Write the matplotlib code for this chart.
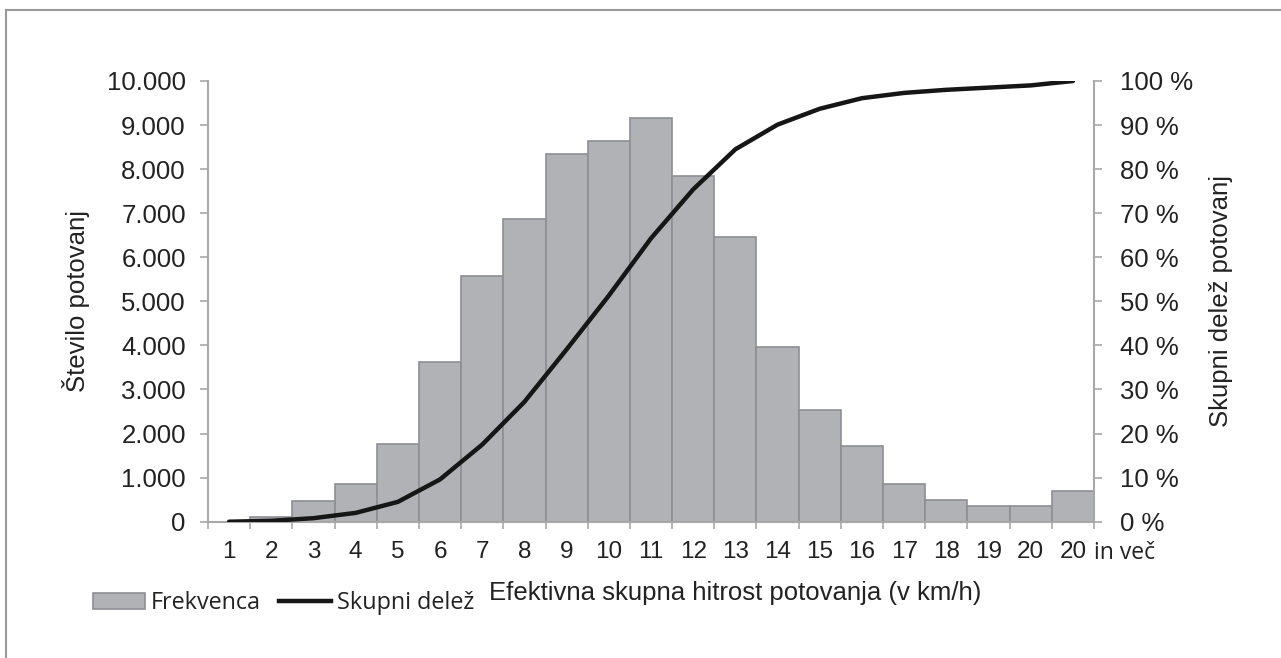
import matplotlib
matplotlib.use("Agg")
import matplotlib.pyplot as plt
from matplotlib.patches import Patch
from matplotlib.lines import Line2D

plt.rcParams['font.family'] = ['Liberation Sans', 'DejaVu Sans']

# podatki, odcitani s slike
kategorije = ['1', '2', '3', '4', '5', '6', '7', '8', '9', '10', '11', '12', '13',
              '14', '15', '16', '17', '18', '19', '20', '20']
frekvenca = [0, 110, 460, 855, 1765, 3620, 5575, 6860, 8350, 8636, 9166, 7848, 6455,
             3962, 2538, 1712, 848, 493, 345, 345, 697]
skupni_delez = [0, 0.2, 0.8, 2.0, 4.5, 9.6, 17.5, 27.2, 39.1, 51.3, 64.3, 75.4, 84.5,
                90.1, 93.7, 96.1, 97.3, 98.0, 98.5, 99.0, 100]
levi_ticki = [0, 1000, 2000, 3000, 4000, 5000, 6000, 7000, 8000, 9000, 10000]
desni_ticki = [0, 10, 20, 30, 40, 50, 60, 70, 80, 90, 100]

siva_os = '#a8a8a8'
W, H = 1281, 658

fig = plt.figure(figsize=(W / 100, H / 100), dpi=100)
ax = fig.add_axes([208 / W, 1 - 521.7 / H, 886 / W, 440.7 / H])
ax2 = ax.twinx()

x = list(range(len(kategorije)))
ax.bar(x, frekvenca, width=1.0, color='#b1b2b6', edgecolor='#8e8f94', linewidth=1.2, zorder=2)
ax2.plot(x, skupni_delez, color='#161616', lw=3.2, solid_joinstyle='round',
         solid_capstyle='round', zorder=3)

ax.set_xlim(-0.5, len(kategorije) - 0.5)
ax.set_ylim(0, 10000)
ax2.set_ylim(0, 100)

# levi y
ax.set_yticks(levi_ticki)
ax.set_yticklabels([f'{v:,}'.replace(',', '.') for v in levi_ticki], fontsize=18.5, color='#222222')
ax.tick_params(axis='y', direction='out', length=6, width=1.2, color=siva_os, pad=10)
# desni y
ax2.set_yticks(desni_ticki)
ax2.set_yticklabels([f'{v} %' for v in desni_ticki], fontsize=18.5, color='#222222')
ax2.tick_params(axis='y', direction='out', length=6, width=1.2, color=siva_os, pad=13)

# x: oznake na sredini, crtice na robovih stolpcev
ax.set_xticks(x)
ax.set_xticklabels(kategorije, fontsize=17.5, color='#222222')
ax.set_xticks([i - 0.5 for i in range(len(kategorije) + 1)], minor=True)
ax.tick_params(axis='x', which='major', length=0, pad=14)
ax.tick_params(axis='x', which='minor', direction='out', length=5, width=1.2, color=siva_os)

for a in (ax, ax2):
    a.spines['top'].set_visible(False)
    for s in ('left', 'right', 'bottom'):
        a.spines[s].set_color(siva_os)
        a.spines[s].set_linewidth(1.5)
ax.spines['right'].set_visible(False)
ax2.spines['left'].set_visible(False)
ax2.spines['bottom'].set_visible(False)

ax.annotate('in več', xy=(20.49, -0.085), xycoords=('data', 'axes fraction'),
            ha='left', va='baseline', fontsize=16.5, family='Open Sans', color='#222222')

# naslovi osi
fig.text(76 / W, 1 - 301 / H, 'Število potovanj', rotation=90, ha='center', va='center',
         fontsize=18.5, color='#222222')
fig.text(1221 / W, 1 - 301 / H, 'Skupni delež potovanj', rotation=90, ha='center', va='center',
         fontsize=18.5, color='#222222')
fig.text(735 / W, 1 - 593 / H, 'Efektivna skupna hitrost potovanja (v km/h)', ha='center',
         va='center', fontsize=18.5, color='#222222')

# legenda
rocaji = [Patch(facecolor='#b1b2b6', edgecolor='#8e8f94', linewidth=1.2),
          Line2D([0], [0], color='#161616', lw=3.2)]
fig.legend(rocaji, ['Frekvenca', 'Skupni delež'], loc='center left',
           bbox_to_anchor=(92.7 / W, 1 - 603 / H), ncol=2, frameon=False,
           prop={'family': 'Open Sans', 'size': 16.8}, borderpad=0, borderaxespad=0,
           handlelength=2.25, handletextpad=0.25, columnspacing=0.75,
           labelcolor='#222222')

# okvir slike (zgoraj in levo)
fig.add_artist(Line2D([6 / W, 1], [1 - 9.5 / H, 1 - 9.5 / H], color='#9a9a9a', lw=1.5,
                      transform=fig.transFigure))
fig.add_artist(Line2D([6 / W, 6 / W], [0, 1 - 9.5 / H], color='#9a9a9a', lw=1.5,
                      transform=fig.transFigure))

fig.savefig('out.png', dpi=100, facecolor='white')
